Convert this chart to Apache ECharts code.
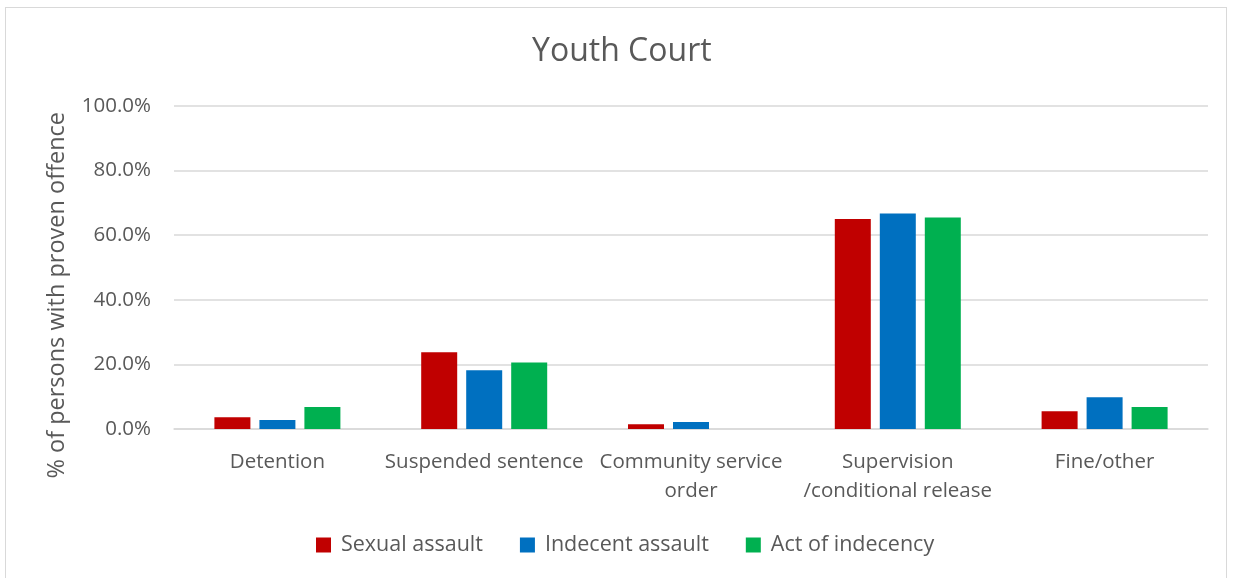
<!DOCTYPE html>
<html><head><meta charset="utf-8">
<script src="https://cdn.jsdelivr.net/npm/echarts@6/dist/echarts.min.js"></script>
<style>
html,body{margin:0;padding:0;background:#fff;}
#frame{position:absolute;left:5px;top:7px;width:1222px;height:580px;border:1px solid #d9d9d9;box-sizing:border-box;}
#c{position:absolute;left:0;top:0;width:1234px;height:578px;}
</style></head>
<body>
<div id="frame"></div>
<div id="c"></div>
<script>
const categories = ['Detention', 'Suspended sentence', 'Community service\norder', 'Supervision\n/conditional release', 'Fine/other'];
const sexualAssault = [3.6, 23.8, 1.5, 65.0, 5.5];
const indecentAssault = [2.8, 18.2, 2.2, 66.7, 9.8];
const actOfIndecency = [6.8, 20.6, 0, 65.5, 6.8];
const yTicks = [0, 20, 40, 60, 80, 100];

const font = 'Open Sans';
const txt = '#595959';
const chart = echarts.init(document.getElementById('c'));
chart.setOption({
  animation: false,
  title: {text: 'Youth Court', left: 527, top: 31, textStyle: {fontFamily: font, fontSize: 32, fontWeight: 'normal', color: txt}},
  grid: {left: 174, right: 26, top: 106, bottom: 149, containLabel: false},
  legend: {
    top: 529, left: 311, itemWidth: 15, itemHeight: 15, itemGap: 37,
    icon: 'rect',
    textStyle: {fontFamily: font, fontSize: 21.5, color: txt, padding: [0, 0, 0, 5]},
    data: ['Sexual assault', 'Indecent assault', 'Act of indecency']
  },
  graphic: [{
    type: 'text', left: 45, top: 112,
    style: {text: '% of persons with proven offence', fontFamily: font, fontSize: 23.5, fill: txt},
    rotation: Math.PI / 2, originX: 0, originY: 0
  }],
  xAxis: {
    type: 'category', data: categories,
    axisLine: {lineStyle: {color: '#d9d9d9', width: 1.5}},
    axisTick: {show: false},
    axisLabel: {fontFamily: font, fontSize: 20.5, color: txt, margin: 19, lineHeight: 29, interval: 0}
  },
  yAxis: {
    type: 'value', min: yTicks[0], max: yTicks[yTicks.length - 1], interval: 20,
    axisLine: {show: false}, axisTick: {show: false},
    splitLine: {lineStyle: {color: '#d9d9d9', width: 1.5}},
    axisLabel: {fontFamily: font, fontSize: 20.5, color: txt, margin: 23, formatter: v => v.toFixed(1) + '%'}
  },
  series: [
    {name: 'Sexual assault', type: 'bar', data: sexualAssault, itemStyle: {color: '#c00000'}, barWidth: 36, barGap: '25%'},
    {name: 'Indecent assault', type: 'bar', data: indecentAssault, itemStyle: {color: '#0070c0'}, barWidth: 36, barGap: '25%'},
    {name: 'Act of indecency', type: 'bar', data: actOfIndecency, itemStyle: {color: '#00b050'}, barWidth: 36, barGap: '25%'}
  ]
});
</script>
</body></html>
